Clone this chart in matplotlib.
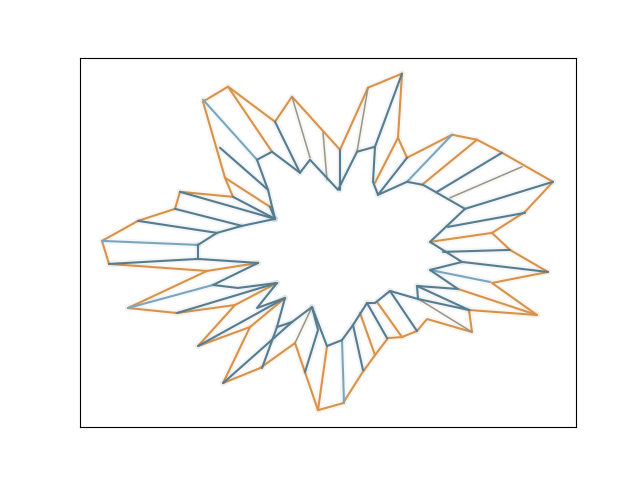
import matplotlib
matplotlib.use("Agg")
import matplotlib.pyplot as plt

# vertices (x to the right, y downwards)
outer_path = [(109, 264), (102, 241), (138, 221), (175, 209), (180, 192), (233, 197),
              (225, 178), (203, 102), (228, 87), (275, 122), (292, 97), (340, 150),
              (368, 88), (402, 74), (398, 138), (407, 158), (452, 135), (477, 140),
              (502, 153), (553, 182), (525, 212), (492, 233), (510, 250), (548, 272),
              (492, 283), (537, 315), (469, 310), (472, 332), (427, 319), (417, 331),
              (402, 337), (388, 338), (375, 355), (362, 373), (343, 403), (318, 410),
              (295, 343), (260, 368), (223, 383), (250, 327), (198, 346), (235, 305),
              (177, 313), (128, 308), (207, 271), (109, 264)]

orange_links = [[(207, 271), (258, 263)], [(235, 305), (277, 283)], [(250, 327), (285, 298)],
                [(225, 178), (270, 207)], [(228, 87), (272, 152)], [(398, 138), (375, 183)],
                [(477, 140), (422, 185)], [(458, 289), (537, 315)], [(327, 346), (318, 410)],
                [(360, 313), (375, 355)], [(377, 302), (402, 337)], [(430, 242), (492, 233)]]

inner_path = [(275, 219), (268, 190), (257, 160), (272, 152), (300, 173), (310, 160),
              (338, 190), (357, 152), (375, 147), (373, 182), (378, 195), (407, 182),
              (423, 185), (465, 209), (430, 242), (462, 262), (430, 270), (458, 289),
              (417, 286), (418, 299), (390, 291), (375, 303), (367, 303), (353, 325),
              (342, 340), (327, 346), (312, 307), (292, 322), (277, 327), (285, 298),
              (257, 308), (277, 283), (238, 288), (213, 285), (258, 263)]

blue_links = [[(109, 264), (198, 259), (258, 263)],
              [(198, 245), (217, 233), (242, 226), (275, 219)],
              [(198, 245), (198, 259)], [(138, 221), (217, 233)], [(175, 209), (242, 226)],
              [(180, 192), (275, 219)], [(233, 197), (275, 219)], [(220, 148), (268, 190)],
              [(270, 207), (275, 219)], [(275, 122), (300, 173)], [(340, 150), (340, 190)],
              [(402, 74), (375, 147)], [(378, 195), (407, 158)], [(437, 192), (502, 153)],
              [(465, 209), (553, 182)], [(448, 227), (525, 213)], [(443, 252), (510, 250)],
              [(462, 262), (548, 272)], [(417, 286), (469, 310)], [(418, 299), (469, 310)],
              [(390, 291), (417, 331)], [(367, 303), (387, 338)], [(353, 325), (363, 370)],
              [(312, 307), (318, 330), (305, 372)], [(292, 322), (223, 383)],
              [(277, 327), (262, 368)], [(198, 346), (285, 298)], [(177, 313), (277, 283)]]

light_links = [[(102, 241), (198, 245)], [(203, 100), (257, 160)], [(407, 182), (452, 135)],
               [(430, 270), (490, 282)], [(342, 340), (344, 403)], [(128, 308), (213, 285)]]

mixed_links = [[(292, 97), (310, 158)], [(323, 133), (327, 180)], [(368, 88), (357, 152)],
               [(450, 198), (522, 167)], [(420, 300), (472, 332)], [(312, 307), (295, 343)]]

ORANGE = '#d8934b'
BLUE = '#557d8f'
LIGHT = '#7ba6bd'
MIXED = '#9a9686'

fig, ax = plt.subplots(figsize=(6.4, 4.8), dpi=100)


def draw(path, color, lw, z):
    xs = [p[0] for p in path]
    ys = [p[1] for p in path]
    # faint halo like the speckled fringe in the picture
    ax.plot(xs, ys, color=color, lw=lw + 3, alpha=0.07, zorder=z - 0.5,
            solid_capstyle='round', solid_joinstyle='round')
    ax.plot(xs, ys, color=color, lw=lw, zorder=z,
            solid_capstyle='round', solid_joinstyle='round')


draw(outer_path, ORANGE, 1.5, 2)
for seg in orange_links:
    draw(seg, ORANGE, 1.5, 2)
for seg in mixed_links:
    draw(seg, MIXED, 1.1, 3)
for seg in light_links:
    draw(seg, LIGHT, 1.5, 3)
draw(inner_path, BLUE, 1.5, 4)
for seg in blue_links:
    draw(seg, BLUE, 1.5, 4)

ax.set_xlim(80, 576)
ax.set_ylim(427, 58)
ax.set_xticks([])
ax.set_yticks([])

fig.savefig('out.png', dpi=100)
